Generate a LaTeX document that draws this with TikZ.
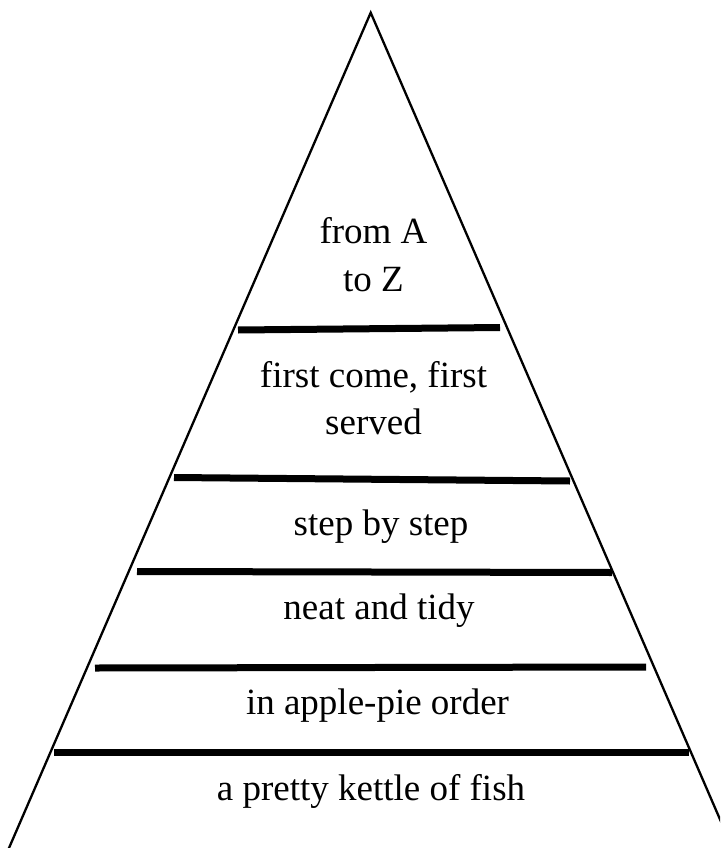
\documentclass[tikz,border=0pt]{standalone}
\usepackage{fontspec}
\setmainfont{Liberation Serif}
\begin{document}
\begin{tikzpicture}[x=1pt,y=-1pt,
  edge/.style={line width=2.3pt, line join=miter},
  bar/.style={line width=7pt, line cap=butt},
  lbl/.style={font=\fontsize{37}{48}\selectfont, inner sep=0pt, anchor=base, align=center}]
\clip (0,0) rectangle (720,848);
\fill[white] (0,0) rectangle (720,848);
% triangle
\coordinate (apex) at (370.7,12.7);
\coordinate (bl) at (3.8,860);
\coordinate (br) at (737.6,860);
\draw[edge] (bl) -- (apex) -- (br);
% bars
\draw[bar] (238,330) -- (500,327.5);
\draw[bar] (174,477.5) -- (570,481);
\draw[bar] (137,571.5) -- (612,572.5);
\draw[bar] (95,668) -- (646,667);
\draw[bar] (54,752.5) -- (689,752.5);
% labels
\node[lbl] (t1a) at (373.5,243) {from A};
\node[lbl] (t1b) at (373.5,291) {to Z};
\node[lbl] (t2a) at (373.5,387) {first come, first};
\node[lbl] (t2b) at (373.5,434) {served};
\node[lbl] (t3) at (381,535) {step by step};
\node[lbl] (t4) at (379,619) {neat and tidy};
\node[lbl] (t5) at (377.5,714) {in apple-pie order};
\node[lbl] (t6) at (371,800) {a pretty kettle of fish};
\end{tikzpicture}
\end{document}
